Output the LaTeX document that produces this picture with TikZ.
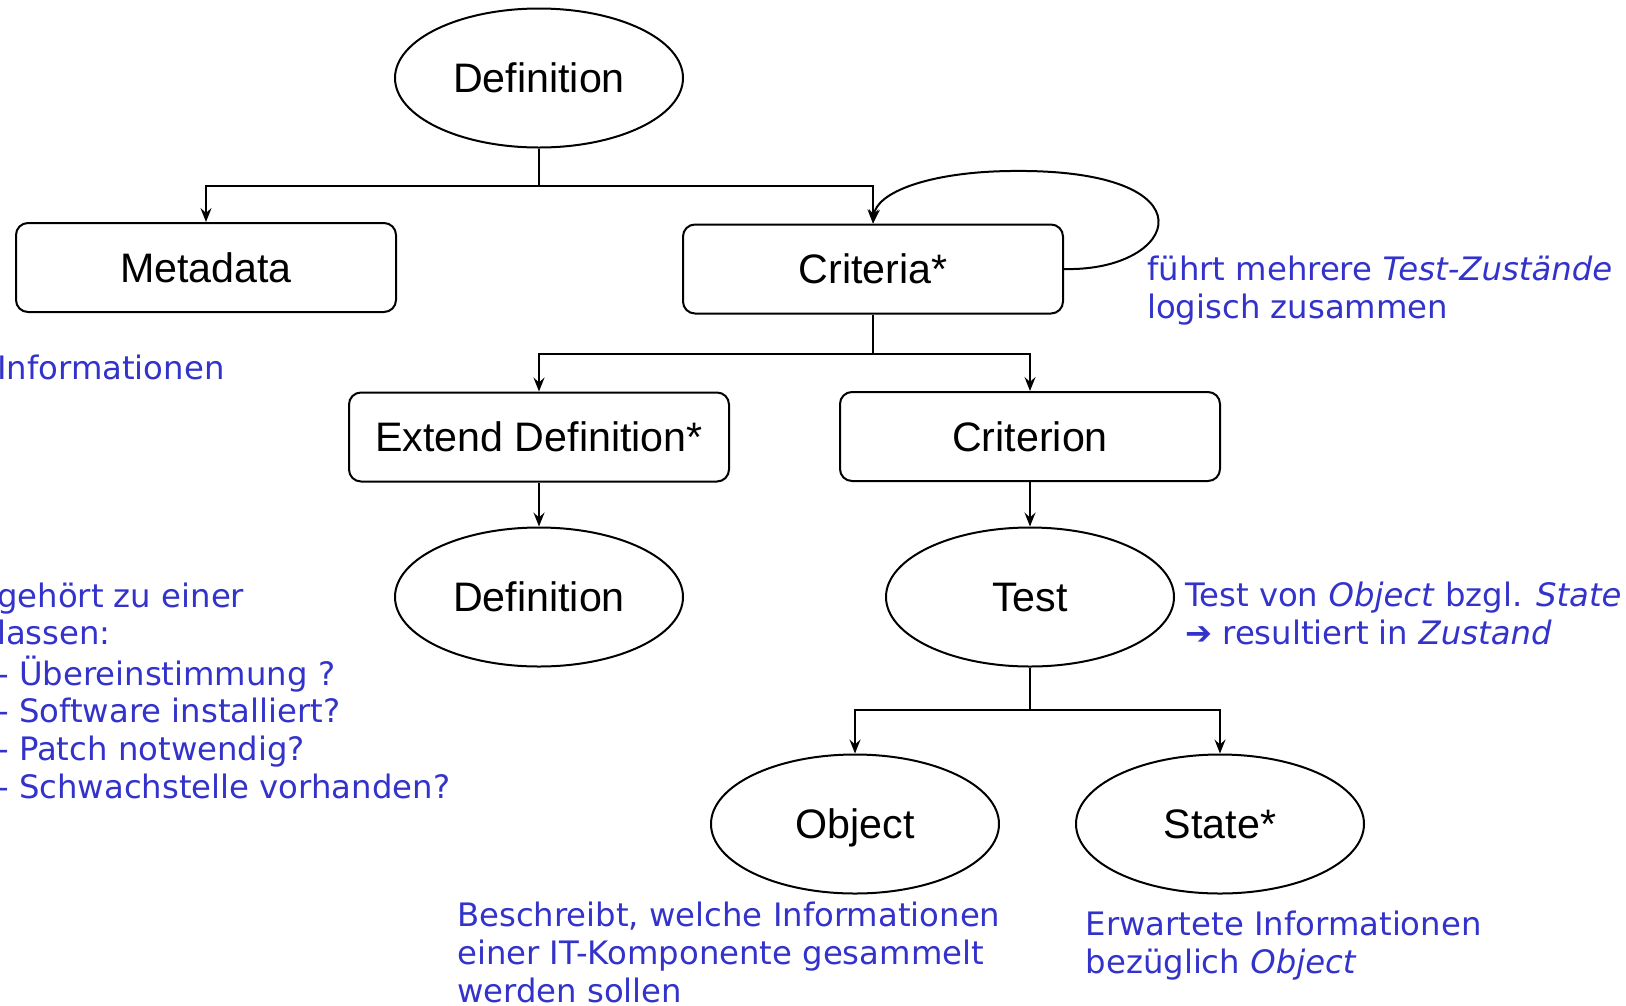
\documentclass[tikz,border=0pt]{standalone}
\usepackage{fontspec}
\setmainfont{Liberation Sans}
\newfontfamily\notefont{DejaVu Sans}
\usetikzlibrary{shapes.geometric,arrows.meta}
\definecolor{noteblue}{HTML}{3333CC}
\begin{document}
\begin{tikzpicture}[x=1pt,y=-1pt,
  boxnode/.style={draw, line width=2pt, rounded corners=12pt, minimum width=380pt, minimum height=89pt, inner sep=0pt,
    font=\fontsize{41.2}{48}\selectfont, text height=29.5pt, text depth=0pt},
  ovalnode/.style={draw, ellipse, line width=2pt, minimum width=288pt, minimum height=139pt, inner sep=0pt,
    font=\fontsize{41.2}{48}\selectfont, text height=29.5pt, text depth=0pt},
  arr/.style={line width=2pt, -{Stealth[length=14pt,width=11pt,inset=5pt]}},
  plain/.style={line width=2pt},
  note/.style={anchor=base west, inner sep=0pt, text=noteblue, font=\notefont\fontsize{32.3}{38.2}\selectfont}]
\useasboundingbox (0,0) rectangle (1626,1005);
\fill[white] (0,0) rectangle (1626,1005);
\clip (0,0) rectangle (1626,1005);

% nodes
\node[ovalnode] (def1) at (539,78) {Definition};
\node[boxnode] (meta) at (206,267.5) {Metadata};
\node[boxnode] (crit) at (873,269) {Criteria*};
\node[boxnode] (ext) at (539,437) {Extend Definition*};
\node[boxnode] (crion) at (1030,436.5) {Criterion};
\node[ovalnode] (def2) at (539,597) {Definition};
\node[ovalnode] (test) at (1030,597) {Test};
\node[ovalnode] (obj) at (855,824) {Object};
\node[ovalnode] (state) at (1220,824) {State*};

% junctions
\coordinate (j1) at (539,186);
\coordinate (j2) at (873,354);
\coordinate (j3) at (1030,710);

% connectors
\draw[plain] (def1.south) -- (j1);
\draw[arr] (j1) -| (meta.north);
\draw[arr] (j1) -| (crit.north);
\draw[plain] (crit.south) -- (j2);
\draw[arr] (j2) -| (ext.north);
\draw[arr] (j2) -| (crion.north);
\draw[arr] (ext.south) -- (def2.north);
\draw[arr] (crion.south) -- (test.north);
\draw[plain] (test.south) -- (j3);
\draw[arr] (j3) -| (obj.north);
\draw[arr] (j3) -| (state.north);
\draw[arr] (crit.east) .. controls (1180,272) and (1218,168) .. (1010,171)
  .. controls (930,172) and (876,192) .. (crit.north);

% notes
\node[note] (nInfo) at (-3,379) {Informationen};
\node[note] (nCrit) at (1147,280) {\begin{tabular}[t]{@{}l@{}}führt mehrere \textit{Test-Zustände}\\logisch zusammen\end{tabular}};
\node[note] (nTest) at (1185,606) {\begin{tabular}[t]{@{}l@{}}Test von \textit{Object} bzgl. \textit{State}\\➔ resultiert in \textit{Zustand}\end{tabular}};
\node[note, font=\notefont\fontsize{32.3}{37.6}\selectfont] (nDef) at (-3,607) {\begin{tabular}[t]{@{}l@{}}gehört zu einer\\lassen:\\- Übereinstimmung ?\\- Software installiert?\\- Patch notwendig?\\- Schwachstelle vorhanden?\end{tabular}};
\node[note] (nObj) at (457,926) {\begin{tabular}[t]{@{}l@{}}Beschreibt, welche Informationen\\einer IT-Komponente gesammelt\\werden sollen\end{tabular}};
\node[note] (nState) at (1085.5,935) {\begin{tabular}[t]{@{}l@{}}Erwartete Informationen\\bezüglich \textit{Object}\end{tabular}};
\end{tikzpicture}
\end{document}
